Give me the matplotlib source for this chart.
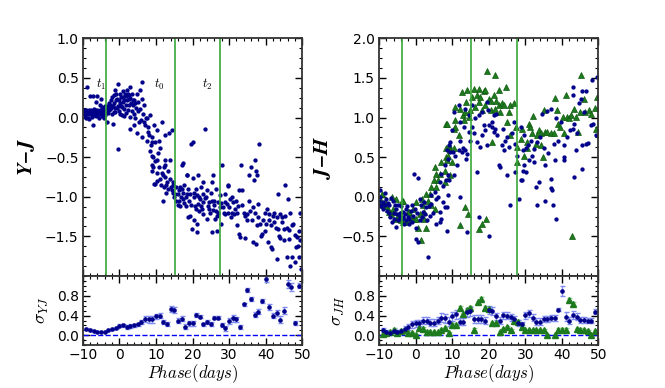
import numpy as np
import matplotlib
matplotlib.use('Agg')
import matplotlib.pyplot as plt
from matplotlib.ticker import AutoMinorLocator

# ---- Y-J colour curve (phase, value) ----
yj_pts = [
    (-9.9, 0.05), (-9.7, 0.08), (-9.5, 0.02), (-9.3, 0.06), (-9.1, 0.0), (-8.9, 0.38), (-8.8, 0.07),
    (-8.6, 0.04), (-8.4, -0.02), (-8.2, 0.09), (-8.0, 0.27), (-7.9, 0.05), (-7.7, 0.06), (-7.5, 0.01),
    (-7.3, -0.09), (-7.1, 0.27), (-7.0, 0.07), (-6.8, 0.03), (-6.6, 0.10), (-6.4, 0.20), (-6.2, 0.06),
    (-6.0, 0.27), (-5.9, 0.04), (-5.7, 0.08), (-5.5, -0.01), (-5.3, 0.16), (-5.1, 0.23), (-5.0, 0.06),
    (-4.8, 0.02), (-4.6, 0.09), (-4.4, 0.05), (-4.2, 0.12), (-4.0, 0.07), (-3.8, 0.03), (-3.6, 0.10),
    (-3.5, -0.05), (-3.3, 0.14), (-3.1, 0.06),
    (-9.8, 0.10), (-9.4, 0.04), (-9.0, 0.09), (-8.7, 0.0), (-8.3, 0.06), (-7.8, 0.10), (-7.4, 0.04),
    (-6.9, 0.11), (-6.5, 0.02), (-6.1, 0.09), (-5.6, 0.05), (-5.2, 0.10), (-4.7, 0.13), (-4.3, 0.0),
    (-3.9, 0.15), (-3.4, 0.08), (-3.0, 0.12),
    (-2.9, 0.18), (-2.7, 0.10), (-2.5, 0.11), (-2.3, 0.22), (-2.1, 0.05), (-1.9, 0.15), (-1.8, -0.08),
    (-1.6, 0.28), (-1.6, 0.07), (-1.4, 0.18), (-1.3, 0.35), (-1.1, 0.12), (-0.9, 0.22), (-0.7, 0.24),
    (-0.5, 0.42), (-0.4, -0.40), (-0.3, 0.15), (-0.1, 0.08), (0.2, 0.18), (0.4, 0.26), (0.6, 0.03),
    (0.8, 0.13), (1.0, 0.20), (1.1, 0.26), (1.3, 0.11), (1.5, 0.30), (1.7, 0.16), (1.9, 0.06),
    (2.0, 0.35), (2.2, 0.22), (2.4, 0.10), (2.5, 0.24), (2.7, 0.28), (2.8, -0.14), (2.9, 0.39), (2.9, 0.01),
    (-2.6, 0.16), (-2.2, 0.12), (-2.0, 0.26), (-1.7, 0.14), (-1.2, 0.07), (-1.0, 0.30), (-0.6, 0.12),
    (-0.2, 0.22), (0.1, 0.30), (0.5, 0.14), (0.9, 0.33), (1.4, 0.22), (1.8, 0.27), (2.3, 0.30),
    (2.6, 0.16), (3.0, 0.25), (3.5, 0.30), (4.0, 0.22), (4.4, 0.18), (0.3, 0.05), (1.2, 0.02),
    (3.2, 0.18), (3.4, 0.08), (3.6, 0.22), (3.85, 0.16), (3.9, -0.10), (4.1, 0.05), (4.3, -0.01),
    (4.5, 0.12), (4.7, 0.30), (4.9, -0.19), (5.0, 0.08), (5.2, 0.20), (5.4, -0.06), (5.7, 0.35),
    (5.7, 0.11), (5.9, -0.03), (6.1, 0.24), (6.1, -0.25), (6.3, 0.45), (6.4, 0.05), (6.6, 0.16),
    (6.8, -0.06), (7.0, -0.10), (7.2, 0.0), (7.5, -0.01), (7.5, -0.29), (7.7, -0.18), (7.9, -0.12),
    (8.1, -0.22), (8.4, 0.03), (8.4, -0.42), (8.6, -0.35), (8.9, -0.31), (8.9, -0.25), (8.9, -0.48),
    (8.9, -0.67), (9.1, -0.50), (9.3, -0.63), (9.5, -0.10), (9.5, -0.84), (9.8, -0.31), (9.8, -0.84),
    (9.0, -0.60), (9.7, -0.55), (10.4, -0.80), (11.3, -0.85), (11.9, -0.72), (12.7, -0.85),
    (13.3, -0.68), (14.0, -0.88), (14.6, -0.95),
    (10.2, -0.16), (10.2, -0.54), (10.2, -0.70), (10.5, -0.45), (10.7, -0.29), (10.7, -0.63),
    (11.0, -0.78), (11.2, -0.38), (11.6, -0.05), (11.6, -0.70), (11.8, -1.05), (12.1, -0.88),
    (12.3, -0.62), (12.5, -0.22), (12.5, -0.54), (12.5, -0.60), (12.5, -0.75), (12.8, -0.95),
    (13.0, -0.82), (13.4, -0.90), (13.7, -0.20), (13.9, -0.54), (13.9, -0.77), (14.3, -0.16),
    (14.3, -0.92), (14.6, -0.85), (14.8, -0.82), (15.0, -1.0),
    (15.3, -0.96), (15.6, -0.88), (15.9, -1.1), (16.2, -0.92), (16.4, -1.05), (16.6, -0.88),
    (16.9, -1.0), (17.1, -0.60), (17.3, -0.95), (17.3, -0.58), (17.5, -1.03), (17.8, -0.85),
    (18.1, -1.12), (18.4, -0.96), (18.5, -0.73), (18.6, -0.72), (18.9, -1.26), (19.1, -1.05),
    (19.3, -0.96), (19.3, -1.24), (19.5, -0.33), (19.8, -1.41), (20.0, -0.76), (20.1, -0.31),
    (20.3, -1.0), (20.3, -1.30), (20.6, -1.12), (20.9, -0.90), (21.2, -0.98), (21.2, -1.34),
    (21.2, -1.44), (21.6, -0.73), (21.6, -1.09), (21.9, -1.18), (22.1, -1.03), (22.4, -0.88),
    (22.7, -1.15), (23.0, -0.82), (23.0, -0.96), (23.0, -1.07), (23.5, -0.15), (23.7, -1.0),
    (23.9, -1.28), (24.2, -1.12), (24.4, -1.07), (24.8, -1.20), (25.0, -0.95), (25.3, -0.82),
    (25.3, -1.44), (25.7, -0.72), (25.7, -1.17), (26.0, -1.05), (26.2, -1.28), (26.5, -0.9),
    (26.7, -1.24), (26.7, -1.43), (27.1, -1.07), (27.4, -0.98), (27.6, -1.13), (27.8, -1.35),
    (15.5, -1.05), (16.0, -0.97), (16.7, -1.12), (17.0, -0.90), (17.7, -1.08), (18.2, -1.0),
    (18.8, -0.90), (19.6, -1.10), (20.5, -0.95), (21.0, -1.15), (21.8, -1.0), (22.3, -1.12),
    (22.9, -1.22), (23.3, -1.02), (24.0, -0.92), (24.6, -1.15), (25.2, -1.05), (25.9, -1.10),
    (26.3, -1.18), (27.0, -1.20), (27.9, -1.08), (28.3, -1.13), (29.0, -1.22), (30.0, -1.13),
    (30.5, -1.25), (31.4, -1.22), (31.9, -1.05), (32.4, -1.12),
    (28.0, -0.60), (28.5, -1.20), (28.9, -0.96), (28.9, -1.07), (29.4, -1.09), (29.7, -0.85),
    (29.8, -0.86), (29.8, -1.20), (30.3, -1.03), (30.8, -1.0), (30.8, -1.20), (31.2, -1.07),
    (31.6, -1.15), (32.1, -1.20), (32.1, -1.36), (32.6, -0.92), (32.8, -1.47), (33.0, -1.51),
    (33.2, -0.60), (33.5, -0.92), (33.5, -1.11), (34.0, -1.20), (34.4, -1.24), (34.4, -1.52),
    (34.9, -1.30), (35.5, -1.05), (35.5, -0.73), (35.8, -1.18), (36.0, -0.62), (36.4, -1.57),
    (36.9, -0.79), (37.0, -0.54), (37.1, -1.20), (37.3, -0.67), (37.3, -1.60), (37.6, -0.73),
    (37.6, -1.36), (37.9, -1.09), (38.2, -0.33), (38.5, -1.34), (38.8, -1.49), (39.0, -1.47),
    (39.7, -1.20), (39.9, -1.43),
    (35.0, -1.22), (36.2, -1.30), (36.6, -1.13), (38.0, -1.25), (39.3, -1.30), (40.0, -1.35),
    (41.0, -1.22), (42.7, -1.40), (43.9, -1.52), (44.6, -1.25), (45.0, -1.55), (46.5, -1.42),
    (47.9, -1.48), (48.8, -1.62), (49.5, -1.55),
    (40.3, -1.15), (40.6, -1.57), (40.8, -1.29), (41.5, -1.36), (41.5, -1.64), (41.7, -1.66),
    (41.9, -1.24), (42.2, -1.32), (42.4, -1.20), (43.1, -1.26), (43.1, -1.79), (43.3, -1.41),
    (43.5, -0.96), (43.7, -1.49), (44.0, -1.22), (44.4, -1.32), (44.9, -1.41), (45.3, -0.85),
    (45.3, -1.24), (45.8, -1.39), (45.8, -1.76), (46.0, -1.03), (46.3, -1.53), (46.7, -1.20),
    (46.7, -1.87), (47.2, -1.36), (47.2, -1.76), (47.6, -1.34), (48.1, -1.83), (48.4, -1.64),
    (48.5, -1.51), (49.2, -1.43), (49.2, -1.76), (49.5, -1.20), (49.7, -1.91),
]

# ---- J-H colour, blue dots ----
jh_blue_pts = [
    (-9.9, -0.05), (-9.7, 0.09), (-9.7, 0.0), (-9.4, -0.10), (-9.0, -0.07), (-8.8, -0.15), (-8.5, 0.05),
    (-8.1, -0.03), (-7.8, -0.18), (-7.5, -0.08), (-7.2, -0.11), (-7.0, -0.26), (-6.7, -0.02),
    (-6.4, -0.32), (-6.2, -0.05), (-5.9, -0.20), (-5.6, -0.10), (-5.3, -0.15), (-5.3, -0.38),
    (-5.0, -0.22), (-4.7, -0.30), (-4.4, -0.26), (-4.1, -0.12), (-3.8, -0.28), (-3.5, -0.19),
    (-3.2, -0.35), (-2.9, -0.22), (-2.6, -0.30), (-2.3, -0.12), (-2.0, -0.25), (-1.7, -0.28),
    (-1.4, -0.18), (-1.1, -0.32), (-0.8, -0.24), (-0.5, 0.29), (-0.3, -0.15), (-0.03, -0.53),
    (-9.5, -0.12), (-8.3, -0.10), (-7.3, -0.20), (-6.0, -0.28), (-4.9, -0.10), (-4.2, -0.20),
    (-3.4, -0.25), (-2.5, -0.16), (-1.9, -0.34), (-0.9, -0.10), (0.3, -0.20), (1.3, -0.30),
    (2.6, -0.22), (3.6, -0.12),
    (0.15, -0.40), (0.6, -0.57), (0.7, 0.24), (1.1, -0.03), (1.5, -0.11), (1.8, -0.25), (2.0, -0.19),
    (2.4, -0.07), (2.9, -0.13), (3.1, -0.30), (3.4, -0.76), (3.8, -0.24), (4.3, 0.02), (4.3, -0.09),
    (4.8, -0.20), (5.2, 0.06), (5.5, -0.35), (5.5, -0.03), (6.1, 0.0), (6.6, -0.32), (6.6, -0.19),
    (6.6, 0.19), (7.0, -0.28), (7.0, 0.29), (7.5, -0.07), (7.5, 0.14), (7.9, -0.13), (7.9, 0.40),
    (8.4, 0.21), (8.6, 0.59), (8.6, -0.43), (8.6, -0.13), (8.8, 0.02), (8.8, 0.27), (8.8, 0.48),
    (9.0, 0.21), (9.1, 0.65), (9.5, 0.69), (9.5, 0.56), (9.9, 0.84), (10.1, 0.56), (10.4, 1.07),
    (10.4, 0.27), (10.9, 0.52), (11.3, 0.40), (11.8, 0.59), (11.8, 1.16), (12.2, 0.94), (12.2, -0.0),
    (12.7, 0.56), (13.1, 0.88), (13.6, 0.59), (13.6, 1.11), (13.8, 0.48), (14.1, 0.54), (14.1, -0.45),
    (14.5, 0.82), (14.5, 1.03), (15.4, 0.88), (15.4, 1.16), (16.3, 0.99), (16.8, 0.69), (16.8, 0.31),
    (17.3, 1.03), (17.3, -0.26), (17.7, 0.63), (18.2, 1.07), (18.2, 0.78), (19.1, 0.84), (19.5, 0.65),
    (19.5, 1.20), (20.0, 0.90), (20.0, -0.50), (20.9, 0.88), (21.4, 0.82), (21.4, 1.03), (21.8, 0.86),
    (22.3, 0.78), (22.7, 0.40), (23.2, 0.37), (23.5, 0.65), (24.1, 0.59), (25.0, 0.75), (25.0, 0.27),
    (12.0, 0.70), (13.0, 0.62), (15.0, 0.70), (16.0, 0.80), (18.7, 0.90), (19.8, 1.10), (21.0, 0.95),
    (22.0, 1.05), (23.8, 0.85), (24.5, 0.70), (26.3, 0.80),
    (25.5, 0.63), (25.9, -0.11), (26.9, 0.94), (27.3, 0.67), (27.3, 0.31), (27.8, 0.52), (28.2, -0.03),
    (28.7, 0.88), (28.7, 0.21), (29.0, 0.21), (29.3, 0.33), (29.4, 0.59), (29.6, 0.78), (29.6, 0.40),
    (30.1, 0.61), (30.3, 0.31), (30.7, 0.65), (31.0, 0.46), (31.9, 0.52), (32.3, 0.44), (32.8, 0.12),
    (33.3, 0.69), (33.3, -0.11), (33.7, 0.19), (34.6, 1.05), (35.3, -0.05), (35.5, 0.40), (36.0, 1.08),
    (36.9, 1.11), (36.9, 0.23), (36.9, 0.11), (37.4, 0.08), (37.6, -0.10), (37.8, 0.67), (38.1, 0.46),
    (38.3, 0.99), (38.3, -0.28), (39.7, 0.94), (40.6, 0.65), (40.6, 0.50), (40.7, 0.46), (42.2, 0.84),
    (31.5, 0.70), (32.5, 0.60), (34.0, 0.75), (35.0, 0.62), (36.3, 0.55), (39.0, 0.70), (41.5, 0.75),
    (44.2, 0.80), (47.0, 0.68),
    (42.9, 0.86), (42.9, 1.28), (43.0, 1.39), (43.3, 0.92), (43.3, 0.25), (43.8, 0.59), (44.7, 1.18),
    (45.1, 1.24), (45.4, 0.35), (45.6, 1.33), (45.6, 0.65), (46.1, 1.07), (46.5, 1.33), (46.5, 0.67),
    (47.9, 0.90), (48.3, 1.47), (48.6, 0.92), (49.3, 0.78), (49.7, 1.51),
]

# ---- J-H colour, green triangles ----
jh_green_pts = [
    (-9.6, -0.05), (-9.2, 0.04), (-8.8, -0.10), (-8.5, -0.07), (-8.0, -0.12), (-7.6, -0.15),
    (-7.2, -0.19), (-6.8, -0.22), (-6.4, 0.0), (-6.2, -0.15), (-5.8, -0.19), (-5.5, -0.28),
    (-5.3, -0.03), (-4.9, -0.25), (-4.4, -0.22), (-4.1, -0.30), (-3.8, -0.05), (-3.5, -0.05),
    (-3.5, -0.32), (-3.1, -0.28), (-2.6, -0.32), (-2.1, -0.19), (-1.7, -0.30), (-1.7, -0.19),
    (-1.2, -0.25), (-0.8, -0.15), (-0.4, -0.28), (0.0, -0.07), (0.15, -0.28), (0.6, -0.39),
    (1.1, -0.22), (1.5, -0.55), (1.8, -0.03), (2.0, -0.11), (2.4, -0.28), (2.4, -0.19), (2.7, -0.39),
    (2.9, 0.04), (3.4, -0.05), (4.0, 0.04), (4.3, 0.12), (4.3, -0.11), (4.9, 0.21), (5.2, 0.37),
    (5.2, -0.15), (5.5, 0.12), (5.6, 0.29), (6.1, 0.21), (6.6, 0.29), (7.0, 0.44), (7.9, 0.19),
    (7.9, 0.32), (8.2, 0.92), (8.4, 0.50), (8.4, 0.62), (8.6, 0.46), (8.6, 0.92), (8.8, 0.52),
    (9.0, 0.65), (9.3, 0.59), (9.5, 0.59), (9.5, 0.27), (9.9, 0.44), (10.4, 0.86), (10.4, 0.61),
    (10.7, 1.13), (10.9, 0.97), (10.9, 0.88), (11.8, 0.78), (12.2, 1.11), (12.2, -0.36), (12.7, 1.32),
    (12.9, 1.03), (13.1, 0.97), (13.4, -0.13), (13.6, 1.07), (13.8, 1.20), (14.0, 1.35), (14.3, -0.22),
    (14.5, 1.01), (15.0, 1.09), (15.4, 1.26), (15.9, 1.36), (16.3, 1.13), (16.8, 1.28), (17.3, 1.36),
    (17.3, 1.20), (17.3, -0.41), (17.7, 1.26), (18.2, 1.09), (18.2, -0.34), (18.6, 1.33), (19.1, 1.35),
    (19.1, 1.16), (19.3, -0.28), (19.5, 1.59), (20.0, 1.24), (20.5, 1.09), (20.7, 1.21), (20.9, 0.69),
    (21.4, 1.28), (21.6, 1.54), (21.8, 1.11), (22.0, 1.21), (22.7, 1.35), (22.7, 1.16), (23.2, 1.07),
    (23.7, 1.19), (24.1, 1.16), (24.6, 1.38), (25.0, 0.95), (25.5, 1.07), (25.9, 1.16), (25.9, 0.78),
    (26.9, 1.19), (27.5, 0.88), (27.8, 0.63), (27.8, 0.44), (28.7, 0.73), (29.1, 0.86), (29.6, 0.52),
    (30.5, 0.69), (30.5, 0.61), (31.0, 0.92), (31.4, 0.88), (31.9, 0.80), (32.2, 1.02), (32.8, 0.67),
    (33.3, 0.78), (33.7, 0.84), (34.2, 0.65), (34.4, 0.80), (34.9, 0.50), (35.1, 1.09), (35.5, 0.82),
    (36.0, 0.82), (36.9, 0.80), (37.8, 0.80), (38.1, 1.25), (38.6, 1.09), (38.9, 0.92), (39.6, 0.88),
    (40.4, 1.01), (40.6, 0.80), (41.0, 1.29), (41.5, 1.01), (41.9, 0.99), (42.4, 1.03), (42.8, -0.49),
    (43.3, 1.11), (43.8, 1.01), (44.4, 0.82), (45.0, 1.07), (45.1, 1.54), (46.1, 1.24), (46.2, 1.07),
    (47.4, 1.09), (47.9, 1.05), (49.0, 1.12), (49.3, 0.86), (49.7, 1.26),
]

# ---- dispersion panels ----
sig_phase = list(range(-9, 50))
sig_yj = [0.12, 0.11, 0.08, 0.07, 0.07, 0.07, 0.10, 0.12, 0.15, 0.19, 0.20, 0.17, 0.18, 0.20,
          0.22, 0.27, 0.33, 0.33, 0.33, 0.39, 0.40, 0.27, 0.23, 0.53, 0.52, 0.30, 0.34, 0.17,
          0.24, 0.24, 0.42, 0.38, 0.22, 0.27, 0.23, 0.36, 0.36, 0.20, 0.14, 0.29, 0.35, 0.33,
          0.17, 0.63, 0.92, 0.73, 0.42, 0.48, 0.70, 1.13, 0.57, 0.40, 0.45, 0.32, 0.50, 1.03,
          0.98, 0.25, 1.00]
sig_yj_err = [0.02, 0.02, 0.01, 0.01, 0.01, 0.01, 0.02, 0.02, 0.02, 0.03, 0.03, 0.04, 0.04, 0.03,
              0.04, 0.05, 0.06, 0.07, 0.07, 0.05, 0.05, 0.04, 0.04, 0.06, 0.06, 0.05, 0.05, 0.05,
              0.05, 0.05, 0.04, 0.03, 0.04, 0.04, 0.04, 0.03, 0.03, 0.04, 0.05, 0.06, 0.07, 0.05,
              0.04, 0.03, 0.04, 0.04, 0.05, 0.05, 0.04, 0.06, 0.06, 0.05, 0.06, 0.07, 0.07, 0.08,
              0.08, 0.05, 0.05]
sig_jh_blue = [0.10, 0.075, 0.05, 0.09, 0.075, 0.09, 0.13, 0.17, 0.22, 0.24, 0.25, 0.30, 0.30,
               0.26, 0.26, 0.30, 0.36, 0.35, 0.28, 0.39, 0.43, 0.28, 0.28, 0.47, 0.49, 0.33,
               0.33, 0.33, 0.30, 0.52, 0.49, 0.39, 0.30, 0.41, 0.40, 0.37, 0.33, 0.25, 0.22,
               0.41, 0.45, 0.36, 0.28, 0.28, 0.33, 0.33, 0.35, 0.35, 0.52, 0.90, 0.38, 0.30,
               0.41, 0.38, 0.31, 0.31, 0.30, 0.30, 0.48]
sig_jh_blue_err = [0.04, 0.03, 0.03, 0.03, 0.03, 0.04, 0.05, 0.06, 0.07, 0.07, 0.07, 0.08, 0.08,
                   0.08, 0.07, 0.08, 0.09, 0.09, 0.09, 0.09, 0.09, 0.08, 0.08, 0.09, 0.09, 0.09,
                   0.08, 0.08, 0.08, 0.08, 0.08, 0.07, 0.07, 0.07, 0.07, 0.07, 0.07, 0.06, 0.06,
                   0.07, 0.07, 0.07, 0.07, 0.07, 0.06, 0.06, 0.06, 0.06, 0.03, 0.10, 0.09, 0.08,
                   0.08, 0.07, 0.06, 0.06, 0.06, 0.06, 0.05]
sig_jh_green_phase = [-9, -8, -7, -6, -5, -4, -3, -2, -1, 0, 1, 2, 3, 4, 5, 6, 7, 8, 9, 10, 11, 12,
                      13, 14, 15, 16, 17, 18, 19, 20, 21, 22, 23, 24, 25, 26, 27, 28, 29, 30, 31,
                      32, 33, 34, 35, 36, 38, 39, 40, 41, 42, 43, 44, 45, 46, 47, 48, 49]
sig_jh_green = [0.03, 0.045, 0.06, 0.11, 0.045, 0.08, 0.11, 0.04, 0.04, 0.0, 0.14, 0.13, 0.06,
                0.06, 0.06, 0.06, 0.11, 0.14, 0.04, 0.21, 0.20, 0.56, 0.43, 0.51, 0.56, 0.11,
                0.67, 0.74, 0.56, 0.53, 0.25, 0.25, 0.06, 0.12, 0.16, 0.10, 0.30, 0.28, 0.17,
                0.10, 0.10, 0.10, 0.10, 0.10, 0.10, 0.0, 0.0, 0.11, 0.11, 0.11, 0.72, 0.64,
                0.12, 0.11, 0.10, 0.08, 0.0, 0.08]

epoch_lines = [-3.7, 15.2, 27.6]
epoch_labels = [(-4.9, r'$t_1$'), (11.0, r'$t_0$'), (24.0, r'$t_2$')]

plt.rcParams['mathtext.fontset'] = 'cm'
plt.rcParams['xtick.direction'] = 'in'
plt.rcParams['ytick.direction'] = 'in'
plt.rcParams['xtick.top'] = True
plt.rcParams['ytick.right'] = True
plt.rcParams['font.size'] = 10

dot_c = '#00008b'
tri_c = '#1e7a1e'
line_c = '#3aa63a'

fig = plt.figure(figsize=(6.65, 3.88), dpi=100)
W = 0.33
ax1 = fig.add_axes([0.1245, 0.289, W, 0.612])
ax2 = fig.add_axes([0.1245, 0.110, W, 0.179], sharex=ax1)
ax3 = fig.add_axes([0.570, 0.289, W, 0.612])
ax4 = fig.add_axes([0.570, 0.110, W, 0.179], sharex=ax3)


def style(ax):
    ax.xaxis.set_minor_locator(AutoMinorLocator(5))
    ax.yaxis.set_minor_locator(AutoMinorLocator(4))
    ax.tick_params(which='major', length=5, width=1, pad=3)
    ax.tick_params(axis='x', which='major', pad=2)
    ax.tick_params(which='minor', length=2.5, width=0.8)
    for s in ax.spines.values():
        s.set_linewidth(1.3)
        s.set_color('#333333')


yj = np.array(yj_pts)
ax1.plot(yj[:, 0], yj[:, 1], 'o', ms=2.1, color=dot_c, mec=dot_c)
for x in epoch_lines:
    ax1.axvline(x, color=line_c, lw=1.2)
for x, s in epoch_labels:
    ax1.text(x, 0.42, s, ha='center', va='center', fontsize=9)
ax1.set_xlim(-10, 50)
ax1.set_ylim(-2, 1)
ax1.set_yticks([1.0, 0.5, 0.0, -0.5, -1.0, -1.5])
ax1.set_ylabel(r'$\mathbfit{Y{-}J}$', fontsize=15, labelpad=6)
plt.setp(ax1.get_xticklabels(), visible=False)

ax2.errorbar(sig_phase, sig_yj, yerr=sig_yj_err, fmt='o', ms=2.3, color=dot_c,
             ecolor='#7f8cf0', elinewidth=0.9, capsize=1.8)
ax2.axhline(0, color='b', ls='--', lw=1)
ax2.set_ylim(-0.2, 1.2)
ax2.set_yticks([0.0, 0.4, 0.8])
ax2.set_ylabel(r'$\sigma_{YJ}$', fontsize=13)
ax2.set_xlabel(r'$Phase(days)$', fontsize=12, labelpad=0)
ax2.set_xticks([-10, 0, 10, 20, 30, 40, 50])

jb = np.array(jh_blue_pts)
jg = np.array(jh_green_pts)
ax3.plot(jg[:, 0], jg[:, 1], '^', ms=4.6, color=tri_c, mec='#0f5a0f', mew=0.5)
ax3.plot(jb[:, 0], jb[:, 1], 'o', ms=2.1, color=dot_c, mec=dot_c)
for x in epoch_lines:
    ax3.axvline(x, color=line_c, lw=1.2)
ax3.set_xlim(-10, 50)
ax3.set_ylim(-1, 2)
ax3.set_yticks([2.0, 1.5, 1.0, 0.5, 0.0, -0.5])
ax3.set_ylabel(r'$\mathbfit{J{-}H}$', fontsize=15, labelpad=6)
plt.setp(ax3.get_xticklabels(), visible=False)

ax4.errorbar(sig_jh_green_phase, sig_jh_green, yerr=0.03, fmt='^', ms=3.8, color=tri_c,
             ecolor='#8fcf8f', elinewidth=0.9, capsize=1.8)
ax4.errorbar(sig_phase, sig_jh_blue, yerr=sig_jh_blue_err, fmt='o', ms=2.3, color=dot_c,
             ecolor='#7f8cf0', elinewidth=0.9, capsize=1.8)
ax4.axhline(0, color='b', ls='--', lw=1)
ax4.set_ylim(-0.2, 1.2)
ax4.set_yticks([0.0, 0.4, 0.8])
ax4.set_ylabel(r'$\sigma_{JH}$', fontsize=13)
ax4.set_xlabel(r'$Phase(days)$', fontsize=12, labelpad=0)
ax4.set_xticks([-10, 0, 10, 20, 30, 40, 50])

for ax in (ax1, ax2, ax3, ax4):
    style(ax)
ax2.set_xlim(-10, 50)
ax4.set_xlim(-10, 50)

fig.savefig('out.png', dpi=100)
